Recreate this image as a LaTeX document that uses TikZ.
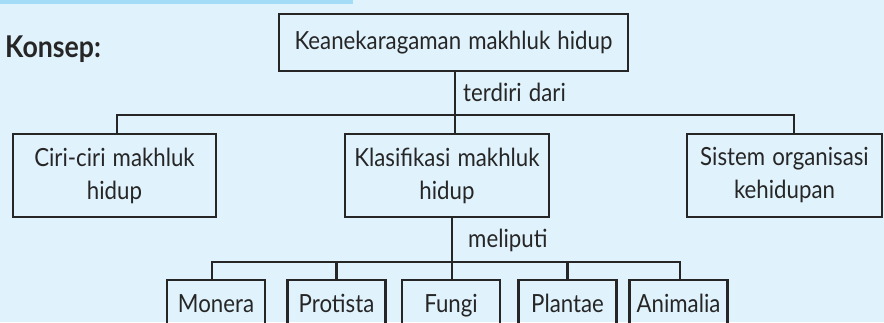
\documentclass[tikz,border=0pt]{standalone}
\usepackage{fontspec}
\setmainfont[FakeStretch=0.89,WordSpace=1.25]{Lato}
\definecolor{bgblue}{HTML}{E0F2FC}
\definecolor{stripblue}{HTML}{A3DCF7}
\definecolor{ink}{HTML}{262626}
\tikzset{
  cbox/.style={draw=ink, line width=2.9pt, inner sep=0pt, align=center, text=ink,
    font=\fontsize{25}{33}\selectfont},
  lvltwo/.style={cbox, minimum height=83pt},
  leaf/.style={cbox, minimum width=98pt, minimum height=46pt, text height=18pt, text depth=0pt},
  conn/.style={draw=ink, line width=2.9pt},
  lbl/.style={text=ink, inner sep=0pt, anchor=base west, font=\fontsize{25}{30}\selectfont}
}
\begin{document}
\begin{tikzpicture}[x=1pt,y=-1pt]
\useasboundingbox (0,0) rectangle (884,322);
\clip (0,0) rectangle (884,322);
\fill[bgblue] (0,0) rectangle (884,322);
\fill[stripblue] (0,0) rectangle (353,3.5);
% title
\node[text=ink, inner sep=0pt, anchor=base west, font=\fontsize{30}{34}\bfseries\selectfont] (konsep) at (5,57) {Konsep:};
% boxes
\node[cbox, minimum width=349pt, minimum height=57pt] (top) at (453.5,42.5) {Keanekaragaman makhluk hidup};
\node[lvltwo, minimum width=203pt] (ciri) at (114.5,175.5) {Ciri-ciri makhluk\\hidup};
\node[lvltwo, minimum width=204pt] (klas) at (447,175.5) {Klasifikasi makhluk\\hidup};
\node[lvltwo, minimum width=195pt] (sistem) at (784.5,175.5) {Sistem organisasi\\kehidupan};
\node[leaf] (monera) at (216,303) {Monera};
\node[leaf] (protista) at (336.5,303) {Protista};
\node[leaf] (fungi) at (451,303) {Fungi};
\node[leaf] (plantae) at (567.5,303) {Plantae};
\node[leaf] (animalia) at (678.5,303) {Animalia};
% connectors upper
\coordinate (j1) at (455,115);
\draw[conn] ([xshift=1.5pt]top.south) -- (j1);
\draw[conn] ([xshift=2.5pt]ciri.north) |- ([xshift=9.5pt]sistem.north |- j1) -- ([xshift=9.5pt]sistem.north);
\draw[conn] (j1) -- ([xshift=8pt]klas.north);
\node[lbl] (terdiri) at (463,101) {terdiri dari};
% connectors lower
\coordinate (j2) at (452,262);
\draw[conn] ([xshift=5pt]klas.south) -- (j2);
\draw[conn] ([xshift=-4pt]monera.north) |- ([xshift=1.5pt]animalia.north |- j2) -- ([xshift=1.5pt]animalia.north);
\draw[conn] (protista.north) -- (protista.north |- j2);
\draw[conn] ([xshift=1pt]fungi.north) -- ([xshift=1pt]fungi.north |- j2);
\draw[conn] (plantae.north) -- (plantae.north |- j2);
\node[lbl] (meliputi) at (468,247) {meliputi};
\end{tikzpicture}
\end{document}
